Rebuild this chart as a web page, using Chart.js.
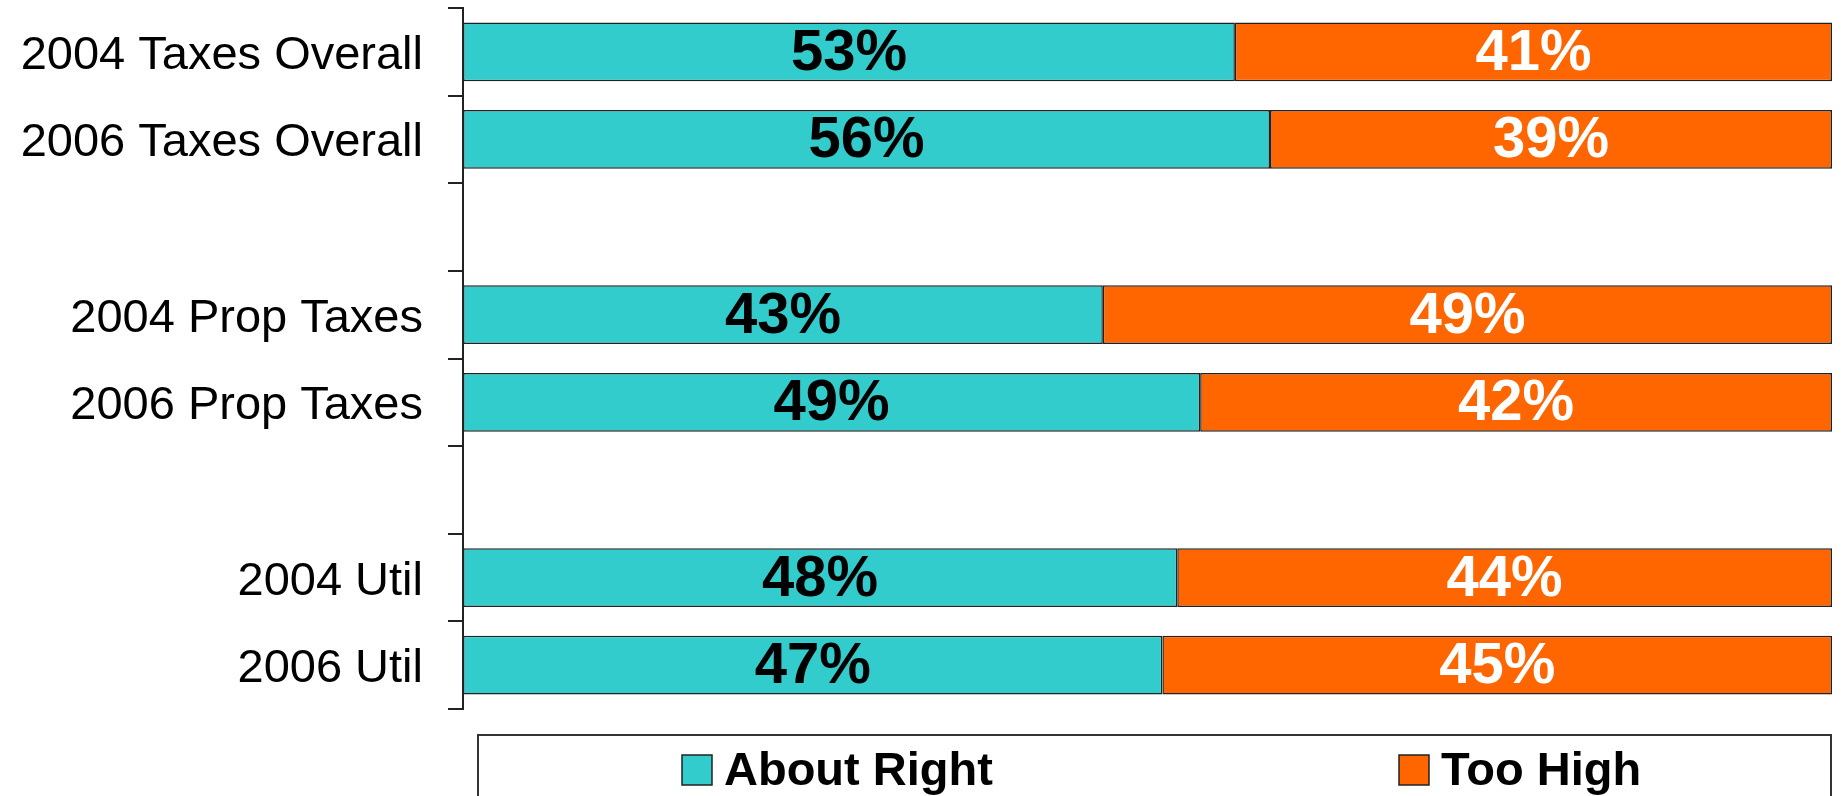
<!DOCTYPE html>
<html>
<head>
<meta charset="utf-8">
<script src="https://cdn.jsdelivr.net/npm/chart.js@4.4.0/dist/chart.umd.min.js"></script>
<style>
  html, body { margin: 0; padding: 0; background: #fff; }
  #wrap { width: 1843px; height: 796px; }
</style>
</head>
<body>
<div id="wrap"><canvas id="chart" width="1843" height="796"></canvas></div>
<script>
// Categories (blank rows separate the groups)
const categories = ["2004 Taxes Overall", "2006 Taxes Overall", "", "2004 Prop Taxes", "2006 Prop Taxes", "", "2004 Util", "2006 Util"];

// Survey answers, in percent
const aboutRight = [53, 56, null, 43, 49, null, 48, 47];
const tooHigh    = [41, 39, null, 49, 42, null, 44, 45];

const seriesNames = ["About Right", "Too High"];
const seriesColors = ["#33CCCC", "#FF6600"];
const labelColors = ["#000000", "#FFFFFF"];

const FONT = "'Liberation Sans', Arial, sans-serif";

// bars are drawn as a share of the row total (100% stacked)
function shareOf(arr, other) {
  return arr.map((v, i) => v == null ? null : v / (v + other[i]));
}

// Write the raw percent in the middle of every segment
const valueLabels = {
  id: 'valueLabels',
  afterDatasetsDraw(chart) {
    const ctx = chart.ctx;
    ctx.save();
    ctx.font = "bold 58px " + FONT;
    ctx.textAlign = "center";
    ctx.textBaseline = "middle";
    chart.data.datasets.forEach((ds, di) => {
      const meta = chart.getDatasetMeta(di);
      meta.data.forEach((bar, i) => {
        const raw = ds.rawValues[i];
        if (raw == null) return;
        ctx.fillStyle = labelColors[di];
        ctx.fillText(raw + "%", (bar.x + bar.base) / 2, bar.y + 2);
      });
    });
    ctx.restore();
  }
};

// Boxed legend under the plot
const boxLegend = {
  id: 'boxLegend',
  afterDraw(chart) {
    const ctx = chart.ctx;
    const left = 478, right = 1831, top = 735;
    ctx.save();
    ctx.strokeStyle = "#333";
    ctx.lineWidth = 2;
    ctx.strokeRect(left, top, right - left, 120);
    ctx.font = "bold 47px " + FONT;
    ctx.textBaseline = "middle";
    const starts = [left + 204, left + 921];
    chart.data.datasets.forEach((ds, di) => {
      const x = starts[di], y = 770;
      ctx.fillStyle = ds.backgroundColor;
      ctx.fillRect(x, y - 15, 30, 30);
      ctx.strokeStyle = "#222";
      ctx.lineWidth = 1.5;
      ctx.strokeRect(x, y - 15, 30, 30);
      ctx.fillStyle = "#000";
      ctx.fillText(ds.label, x + 42, y + 2);
    });
    ctx.restore();
  }
};

new Chart(document.getElementById("chart"), {
  type: 'bar',
  data: {
    labels: categories,
    datasets: [
      {
        label: seriesNames[0],
        data: shareOf(aboutRight, tooHigh),
        rawValues: aboutRight,
        backgroundColor: seriesColors[0],
        borderColor: "#222",
        borderWidth: 1.5,
        borderSkipped: false
      },
      {
        label: seriesNames[1],
        data: shareOf(tooHigh, aboutRight),
        rawValues: tooHigh,
        backgroundColor: seriesColors[1],
        borderColor: "#222",
        borderWidth: 1.5,
        borderSkipped: false
      }
    ]
  },
  options: {
    indexAxis: 'y',
    responsive: false,
    animation: false,
    barPercentage: 0.67,
    categoryPercentage: 1.0,
    layout: { padding: { top: 8, bottom: 87, right: 11, left: 0 } },
    plugins: {
      legend: { display: false },
      tooltip: { enabled: false }
    },
    scales: {
      x: {
        stacked: true,
        display: false,
        min: 0,
        max: 1
      },
      y: {
        stacked: true,
        afterFit(scale) {
          scale.width = 463;
          scale.paddingTop = 0;
          scale.paddingBottom = 0;
        },
        border: { display: true, color: "#222", width: 2 },
        grid: {
          display: true,
          offset: true,
          drawOnChartArea: false,
          drawTicks: true,
          tickLength: 15,
          color: "#222",
          lineWidth: 2
        },
        ticks: {
          padding: 25,
          labelOffset: 4,
          color: "#000",
          font: { family: FONT, size: 47 }
        }
      }
    }
  },
  plugins: [valueLabels, boxLegend]
});
</script>
</body>
</html>
